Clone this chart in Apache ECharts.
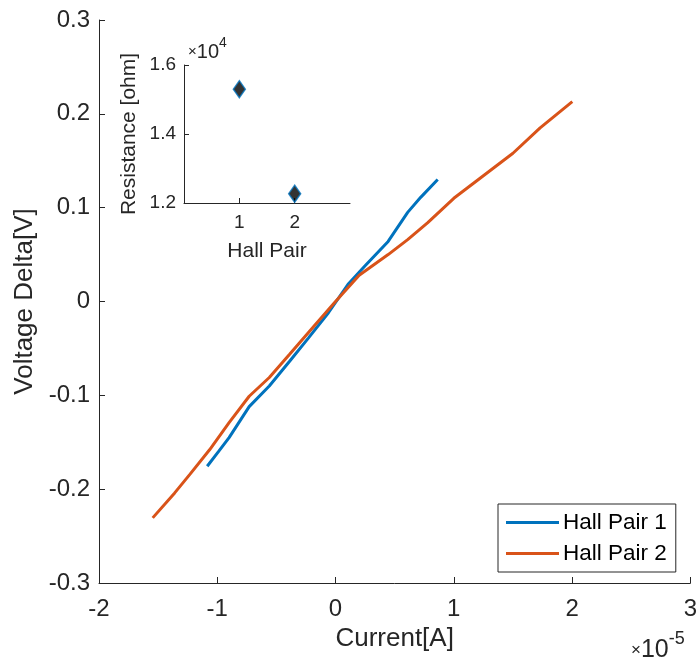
<!DOCTYPE html>
<html>
<head>
<meta charset="utf-8">
<script src="https://cdn.jsdelivr.net/npm/echarts@6/dist/echarts.min.js"></script>
<style>html,body{margin:0;padding:0;background:#fff}#c{width:700px;height:665px}</style>
</head>
<body>
<div id="c"></div>
<script>
// Current in units of 1e-5 A, voltage in V
const pair1Current = [-1.085, -0.99, -0.90, -0.73, -0.56, -0.39, -0.23, -0.06, 0.11, 0.25, 0.445, 0.61, 0.72, 0.864];
const pair1Voltage = [-0.1756, -0.160, -0.145, -0.112, -0.090, -0.064, -0.039, -0.012, 0.019, 0.038, 0.064, 0.095, 0.111, 0.130];
const pair2Current = [-1.546, -1.36, -1.23, -1.065, -0.90, -0.73, -0.56, -0.39, -0.17, 0.0, 0.20, 0.445, 0.61, 0.78, 1.0, 1.25, 1.50, 1.73, 2.002];
const pair2Voltage = [-0.2306, -0.204, -0.184, -0.158, -0.129, -0.101, -0.081, -0.0565, -0.0245, 0.0, 0.028, 0.050, 0.066, 0.084, 0.110, 0.134, 0.158, 0.185, 0.213];
const hallPairs = [1, 2];
const resistances = [15300, 12270];
const seriesNames = ['Hall Pair 1', 'Hall Pair 2'];
const mainYTicks = [-0.3, -0.2, -0.1, 0, 0.1, 0.2, 0.3];
const mainXTicks = [-2, -1, 0, 1, 2, 3];

const FONT = 'Liberation Sans, Arial, Helvetica, sans-serif';
const AX = '#262626';
const chart = echarts.init(document.getElementById('c'), null, {renderer: 'canvas'});
const zip = (a, b) => a.map((v, i) => [v, b[i]]);
const axisCommon = {
  axisLine: {show: true, onZero: false, lineStyle: {color: AX, width: 1}},
  axisTick: {show: true, inside: true, length: 6, lineStyle: {color: AX}},
  splitLine: {show: false},
  axisLabel: {color: AX, fontFamily: FONT}
};
chart.setOption({
  animation: false,
  backgroundColor: '#fff',
  grid: [
    {left: 99, top: 20, width: 596, height: 563},
    {left: 184, top: 65, width: 166, height: 138, z: 10}
  ],
  xAxis: [
    Object.assign({}, axisCommon, {
      type: 'value', gridIndex: 0, min: -2, max: 3, interval: 1,
      axisLabel: Object.assign({}, axisCommon.axisLabel, {fontSize: 24, margin: 14}),
      name: 'Current[A]', nameLocation: 'middle', nameGap: 42,
      nameTextStyle: {color: AX, fontSize: 26, fontFamily: FONT}
    }),
    Object.assign({}, axisCommon, {
      type: 'value', gridIndex: 1, min: 0, max: 3, interval: 1,
      axisTick: Object.assign({}, axisCommon.axisTick, {length: 5, customValues: hallPairs}),
      axisLabel: Object.assign({}, axisCommon.axisLabel, {fontSize: 19, margin: 10, customValues: hallPairs}),
      name: 'Hall Pair', nameLocation: 'middle', nameGap: 38,
      nameTextStyle: {color: AX, fontSize: 21, fontFamily: FONT}
    })
  ],
  yAxis: [
    Object.assign({}, axisCommon, {
      type: 'value', gridIndex: 0, min: -0.3, max: 0.3, interval: 0.1,
      axisLabel: Object.assign({}, axisCommon.axisLabel, {fontSize: 24, margin: 9,
        formatter: v => { const r = Math.round(v * 10) / 10; return r === 0 ? '0' : String(r); }}),
      name: 'Voltage Delta[V]', nameLocation: 'middle', nameGap: 56,
      nameTextStyle: {color: AX, fontSize: 26, fontFamily: FONT}
    }),
    Object.assign({}, axisCommon, {
      type: 'value', gridIndex: 1, min: 12000, max: 16000, interval: 2000,
      axisTick: Object.assign({}, axisCommon.axisTick, {length: 5}),
      axisLabel: Object.assign({}, axisCommon.axisLabel, {fontSize: 19, margin: 8,
        formatter: v => (v / 1e4).toFixed(1)}),
      name: 'Resistance [ohm]', nameLocation: 'middle', nameGap: 44,
      nameTextStyle: {color: AX, fontSize: 21, fontFamily: FONT}
    })
  ],
  legend: {
    data: seriesNames,
    left: 498, top: 504, orient: 'vertical',
    itemWidth: 53, itemHeight: 3, itemGap: 8, icon: 'rect',
    backgroundColor: '#fff', borderColor: AX, borderWidth: 1,
    padding: [7, 9, 7, 8],
    textStyle: {color: '#000', fontSize: 22.5, fontFamily: FONT, padding: [0, 0, 0, -1]}
  },
  series: [
    {name: seriesNames[0], type: 'line', xAxisIndex: 0, yAxisIndex: 0, data: zip(pair1Current, pair1Voltage),
      showSymbol: false, symbol: 'none', lineStyle: {color: '#0072BD', width: 3}, itemStyle: {color: '#0072BD'}},
    {name: seriesNames[1], type: 'line', xAxisIndex: 0, yAxisIndex: 0, data: zip(pair2Current, pair2Voltage),
      showSymbol: false, symbol: 'none', lineStyle: {color: '#D95319', width: 3}, itemStyle: {color: '#D95319'}},
    {name: 'Resistance', type: 'scatter', xAxisIndex: 1, yAxisIndex: 1, data: zip(hallPairs, resistances),
      symbol: 'diamond', symbolSize: [12, 17], z: 20,
      itemStyle: {color: '#000', borderColor: '#0072BD', borderWidth: 1.5}}
  ],
  graphic: [
    {type: 'text', left: 631, top: 630, z: 100, style: {
      text: '{a|×}{b|10}{c|-5}', fill: AX,
      rich: {a: {fontSize: 17, fontFamily: FONT, fill: AX, padding: [8, 0, 0, 0]}, b: {fontSize: 25, fontFamily: FONT, fill: AX, padding: [8, 0, 0, 0]}, c: {fontSize: 18, fontFamily: FONT, fill: AX, verticalAlign: 'top', padding: [0, 0, 12, 0]}}
    }},
    {type: 'text', left: 188, top: 36, z: 100, style: {
      text: '{a|×}{b|10}{c|4}', fill: AX,
      rich: {a: {fontSize: 15, fontFamily: FONT, fill: AX, padding: [6, 0, 0, 0]}, b: {fontSize: 20, fontFamily: FONT, fill: AX, padding: [6, 0, 0, 0]}, c: {fontSize: 14, fontFamily: FONT, fill: AX, verticalAlign: 'top', padding: [0, 0, 9, 0]}}
    }}
  ]
});
</script>
</body>
</html>
